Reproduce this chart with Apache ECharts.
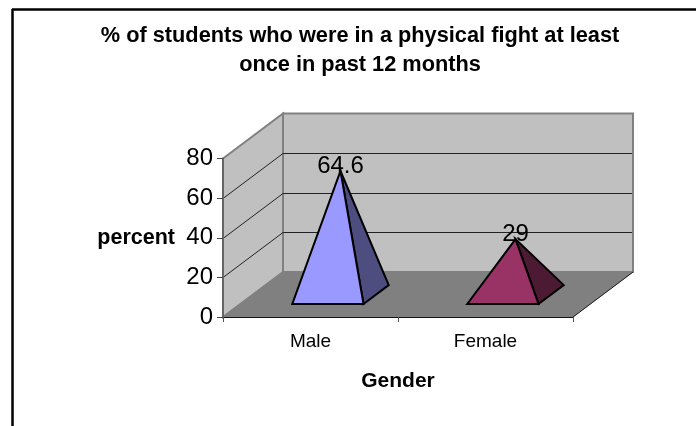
<!DOCTYPE html>
<html><head><meta charset="utf-8">
<style>html,body{margin:0;padding:0;background:#fff}#c{width:696px;height:426px}</style>
<script src="https://cdn.jsdelivr.net/npm/echarts@6/dist/echarts.min.js"></script>
</head><body><div id="c"></div>
<script>
var categories = ['Male', 'Female'];
var percentValues = [64.6, 29];
var gridTicks = [20, 40, 60];
var frontColors = ['#9999ff', '#993366'];
var sideColors = ['#4d4d80', '#4d1a33'];
var chartTitle = '% of students who were in a physical fight at least\nonce in past 12 months';

var DX = 60, DY = -45;
var FONT = '"Liberation Sans", Arial, sans-serif';

function wallsItem(params) {
  var c = params.coordSys, l = c.x, r = c.x + c.width, t = c.y, b = c.y + c.height;
  return { type: 'group', children: [
    { type: 'polygon', shape: { points: [[l + DX, t + DY], [r + DX, t + DY], [r + DX, b + DY], [l + DX, b + DY]] },
      style: { fill: '#c0c0c0', stroke: '#808080', lineWidth: 2 } },
    { type: 'polygon', shape: { points: [[l, t], [l + DX, t + DY], [l + DX, b + DY], [l, b]] },
      style: { fill: '#c0c0c0', stroke: '#808080', lineWidth: 2 } },
    { type: 'polygon', shape: { points: [[l, b], [r, b], [r + DX, b + DY], [l + DX, b + DY]] },
      style: { fill: '#808080', stroke: '#808080', lineWidth: 1 } },
    { type: 'line', shape: { x1: r, y1: b, x2: r + DX, y2: b + DY },
      style: { stroke: '#222', lineWidth: 1 } }
  ]};
}
function gridItem(params, api) {
  var c = params.coordSys, l = c.x, r = c.x + c.width;
  var y = Math.round(api.coord([0, api.value(1)])[1]) + 0.5;
  return { type: 'polyline', shape: { points: [[l, y], [l + DX, y + DY], [r + DX - 1, y + DY]] },
    style: { stroke: '#222', lineWidth: 1, fill: null } };
}
function pyramidItem(params, api) {
  var i = api.value(0), v = api.value(1);
  var base = api.coord([i, 0]), top = api.coord([i, v]);
  var band = api.size([1, 0])[0];
  var w = band * 0.407, h = (base[1] - top[1]) * 0.965;
  function P(off, d, up) { return [base[0] + off + DX * d, base[1] + DY * d - up]; }
  var fl = P(-w / 2, 0.29, 0), fr = P(w / 2, 0.29, 0), br = P(w / 2, 0.71, 0), apex = P(0, 0.5, h);
  var st = { stroke: '#000', lineWidth: 2, lineJoin: 'miter' };
  return { type: 'group', children: [
    { type: 'polygon', shape: { points: [fr, br, apex] },
      style: Object.assign({ fill: sideColors[i] }, st) },
    { type: 'polygon', shape: { points: [fl, fr, apex] },
      style: Object.assign({ fill: frontColors[i] }, st) },
    { type: 'text', z2: 20, style: { text: String(v), x: apex[0], y: apex[1] - 5,
      align: 'center', verticalAlign: 'middle', fill: '#000', font: '24px ' + FONT } }
  ]};
}

var chart = echarts.init(document.getElementById('c'), null, { renderer: 'canvas' });
chart.setOption({
  animation: false,
  backgroundColor: '#fff',
  title: { text: chartTitle, left: 355, top: 16, textAlign: 'center',
    textStyle: { fontFamily: FONT, fontSize: 21.75, fontWeight: 'bold', color: '#000', lineHeight: 29 } },
  grid: { left: 223, top: 158.5, width: 350, height: 158.5 },
  xAxis: { type: 'category', data: categories, z: 10, name: 'Gender', nameLocation: 'middle', nameGap: 54,
    nameTextStyle: { fontFamily: FONT, fontSize: 21, fontWeight: 'bold', color: '#000' },
    axisLine: { lineStyle: { color: '#111', width: 1 } },
    axisTick: { show: true, length: 5, lineStyle: { color: '#555' } },
    axisLabel: { fontFamily: FONT, fontSize: 19, color: '#000', margin: 15 } },
  yAxis: { type: 'value', min: 0, max: 80, interval: 20, z: 10, name: 'percent', nameLocation: 'middle',
    nameRotate: 0, nameGap: 48,
    nameTextStyle: { fontFamily: FONT, fontSize: 21.5, fontWeight: 'bold', color: '#000' },
    splitLine: { show: false },
    axisLine: { show: true, lineStyle: { color: '#666', width: 2 } },
    axisTick: { show: true, length: 6, lineStyle: { color: '#444' } },
    axisLabel: { fontFamily: FONT, fontSize: 24, color: '#000', margin: 10 } },
  series: [
    { type: 'custom', name: 'walls', z: 1, silent: true, renderItem: wallsItem, data: [[0, 0]], clip: false },
    { type: 'custom', name: 'gridlines', z: 2, silent: true, renderItem: gridItem,
      data: gridTicks.map(function (t) { return [0, t]; }), clip: false },
    { type: 'custom', name: 'percent', z: 3, renderItem: pyramidItem,
      data: percentValues.map(function (v, i) { return [i, v]; }), clip: false }
  ],
  graphic: [
    { type: 'line', shape: { x1: 12, y1: 9.5, x2: 696, y2: 9.5 }, style: { stroke: '#000', lineWidth: 2.5 } },
    { type: 'line', shape: { x1: 12.5, y1: 9, x2: 12.5, y2: 426 }, style: { stroke: '#000', lineWidth: 2.5 } }
  ]
});
</script></body></html>
